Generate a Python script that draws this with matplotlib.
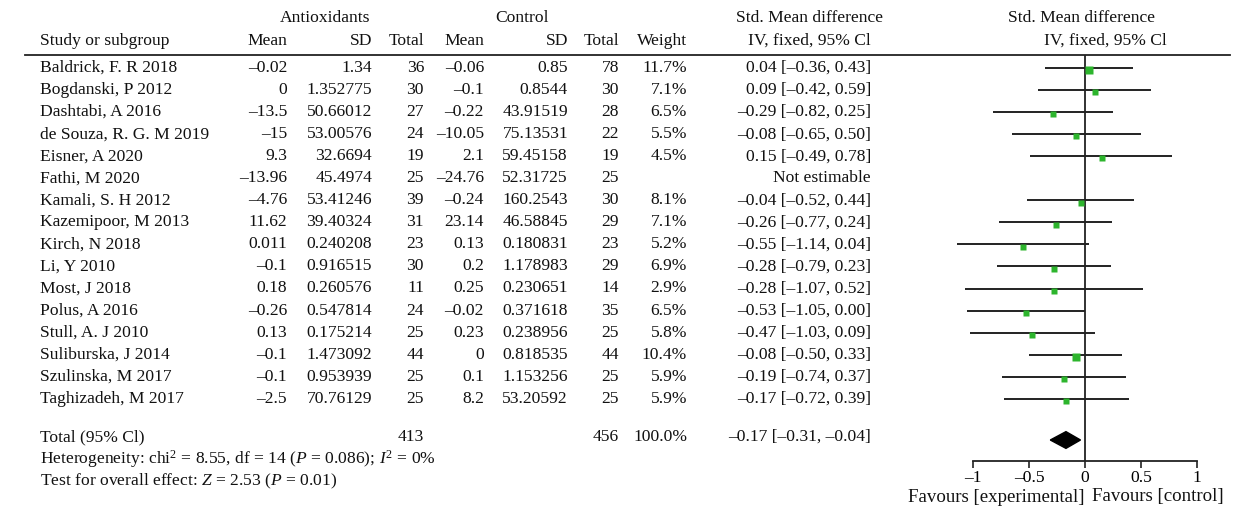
import matplotlib
matplotlib.use("Agg")
import matplotlib.pyplot as plt
from matplotlib.patches import Polygon

plt.rcParams["font.family"] = ["Liberation Serif", "DejaVu Serif"]
plt.rcParams["mathtext.fontset"] = "custom"
plt.rcParams["mathtext.rm"] = "Liberation Serif"
plt.rcParams["mathtext.it"] = "Liberation Serif:italic"

# ---- study data -------------------------------------------------------
studies = ["Baldrick, F. R 2018", "Bogdanski, P 2012", "Dashtabi, A 2016",
           "de Souza, R. G. M 2019", "Eisner, A 2020", "Fathi, M 2020",
           "Kamali, S. H 2012", "Kazemipoor, M 2013", "Kirch, N 2018",
           "Li, Y 2010", "Most, J 2018", "Polus, A 2016", "Stull, A. J 2010",
           "Suliburska, J 2014", "Szulinska, M 2017", "Taghizadeh, M 2017"]
ant_mean = ["–0.02", "0", "–13.5", "–15", "9.3", "–13.96", "–4.76", "11.62",
            "0.011", "–0.1", "0.18", "–0.26", "0.13", "–0.1", "–0.1", "–2.5"]
ant_sd = ["1.34", "1.352775", "50.66012", "53.00576", "32.6694", "45.4974",
          "53.41246", "39.40324", "0.240208", "0.916515", "0.260576",
          "0.547814", "0.175214", "1.473092", "0.953939", "70.76129"]
ant_n = [36, 30, 27, 24, 19, 25, 39, 31, 23, 30, 11, 24, 25, 44, 25, 25]
ctl_mean = ["–0.06", "–0.1", "–0.22", "–10.05", "2.1", "–24.76", "–0.24",
            "23.14", "0.13", "0.2", "0.25", "–0.02", "0.23", "0", "0.1", "8.2"]
ctl_sd = ["0.85", "0.8544", "43.91519", "75.13531", "59.45158", "52.31725",
          "160.2543", "46.58845", "0.180831", "1.178983", "0.230651",
          "0.371618", "0.238956", "0.818535", "1.153256", "53.20592"]
ctl_n = [78, 30, 28, 22, 19, 25, 30, 29, 23, 29, 14, 35, 25, 44, 25, 25]
weight = [11.7, 7.1, 6.5, 5.5, 4.5, None, 8.1, 7.1, 5.2, 6.9, 2.9, 6.5, 5.8,
          10.4, 5.9, 5.9]
smd = [0.04, 0.09, -0.29, -0.08, 0.15, None, -0.04, -0.26, -0.55, -0.28,
       -0.28, -0.53, -0.47, -0.08, -0.19, -0.17]
ci_low = [-0.36, -0.42, -0.82, -0.65, -0.49, None, -0.52, -0.77, -1.14,
          -0.79, -1.07, -1.05, -1.03, -0.50, -0.74, -0.72]
ci_high = [0.43, 0.59, 0.25, 0.50, 0.78, None, 0.44, 0.24, 0.04, 0.23, 0.52,
           0.00, 0.09, 0.33, 0.37, 0.39]

total_ant, total_ctl = 413, 456
pooled, pooled_low, pooled_high = -0.17, -0.31, -0.04
axis_ticks = [-1, -0.5, 0, 0.5, 1]
tick_labels = ["–1", "–0.5", "0", "0.5", "1"]


def fmt(v):
    return f"{v:.2f}".replace("-", "–")


W, H = 1235, 509
fig = plt.figure(figsize=(W / 100, H / 100), dpi=100)

# full-figure axes in pixel units for the table text
tab = fig.add_axes([0, 0, 1, 1])
tab.set_xlim(0, W)
tab.set_ylim(H, 0)
tab.axis("off")

fs = 12.6
row0, dy = 68, 22.05
kw = dict(fontsize=fs, va="center", color="#111111")

# column right edges
c_am, c_asd, c_an = 287, 372, 424
c_cm, c_csd, c_cn, c_w, c_ci = 484, 568, 619, 687, 871

tab.text(325, 18, "Antioxidants", ha="center", **kw)
tab.text(522, 18, "Control", ha="center", **kw)
tab.text(810, 18, "Std. Mean difference", ha="center", **kw)
tab.text(1081, 18, "Std. Mean difference", ha="center", **kw)
tab.text(40, 41, "Study or subgroup", ha="left", **kw)
for x, s in [(c_am, "Mean"), (c_asd, "SD"), (c_an, "Total"), (c_cm, "Mean"),
             (c_csd, "SD"), (c_cn, "Total"), (c_w, "Weight"),
             (c_ci, "IV, fixed, 95% Cl"), (1167, "IV, fixed, 95% Cl")]:
    tab.text(x, 41, s, ha="right", **kw)
tab.plot([25, 1230], [55, 55], color="#222222", lw=1.3)

for i, name in enumerate(studies):
    y = row0 + dy * i
    tab.text(40, y, name, ha="left", **kw)
    tab.text(c_am, y, ant_mean[i], ha="right", **kw)
    tab.text(c_asd, y, ant_sd[i], ha="right", **kw)
    tab.text(c_an, y, str(ant_n[i]), ha="right", **kw)
    tab.text(c_cm, y, ctl_mean[i], ha="right", **kw)
    tab.text(c_csd, y, ctl_sd[i], ha="right", **kw)
    tab.text(c_cn, y, str(ctl_n[i]), ha="right", **kw)
    if weight[i] is None:
        tab.text(c_ci, y, "Not estimable", ha="right", **kw)
    else:
        tab.text(c_w, y, f"{weight[i]:.1f}%", ha="right", **kw)
        tab.text(c_ci, y,
                 f"{fmt(smd[i])} [{fmt(ci_low[i])}, {fmt(ci_high[i])}]",
                 ha="right", **kw)

yt = 437
tab.text(40, yt, "Total (95% Cl)", ha="left", **kw)
tab.text(c_an, yt, str(total_ant), ha="right", **kw)
tab.text(c_cn, yt, str(total_ctl), ha="right", **kw)
tab.text(c_w, yt, f"{sum(w for w in weight if w):.1f}%", ha="right", **kw)
tab.text(c_ci, yt, f"{fmt(pooled)} [{fmt(pooled_low)}, {fmt(pooled_high)}]",
         ha="right", **kw)
tab.text(40, 459,
         r"Heterogeneity: chi$^2$ = 8.55, df = 14 ($P$ = 0.086); $I^2$ = 0%",
         ha="left", **kw)
tab.text(40, 481, r"Test for overall effect: $Z$ = 2.53 ($P$ = 0.01)",
         ha="left", **kw)

# ---- forest panel -------------------------------------------------------
x0px, x1px = 940, 1230
zero_px, unit_px = 1085, 112
top_px, bot_px = 55, 461
ax = fig.add_axes([x0px / W, 1 - bot_px / H, (x1px - x0px) / W,
                   (bot_px - top_px) / H])
ax.set_xlim((x0px - zero_px) / unit_px, (x1px - zero_px) / unit_px)
ax.set_ylim((bot_px - row0) / dy, (top_px - row0) / dy)
ax.patch.set_alpha(0)
for s in ["top", "left", "right"]:
    ax.spines[s].set_visible(False)
ax.spines["bottom"].set_bounds(-1, 1)
ax.spines["bottom"].set_linewidth(1.3)
ax.spines["bottom"].set_color("#222222")
ax.set_yticks([])
ax.set_xticks(axis_ticks)
ax.set_xticklabels(tick_labels, fontsize=fs)
ax.tick_params(axis="x", direction="out", length=5, width=1.2,
               color="#222222", pad=1.5)

ax.axvline(0, color="#222222", lw=1.3, zorder=1)
for i in range(len(studies)):
    if smd[i] is None:
        continue
    ax.plot([ci_low[i], ci_high[i]], [i, i], color="#222222", lw=1.4,
            solid_capstyle="butt", zorder=2)
    size_px = 5.0 + 0.2 * weight[i]
    ax.plot(smd[i], i + 0.1, marker="s", ms=size_px * 0.72, color="#2db52d",
            mec="none", zorder=3)

yd = (440 - row0) / dy
diamond = Polygon([[pooled_low, yd], [pooled, yd - 0.38],
                   [pooled_high, yd], [pooled, yd + 0.38]],
                  closed=True, color="black", zorder=3)
ax.add_patch(diamond)

fav_kw = dict(kw, fontsize=13.6)
tab.text(1084, 497, "Favours [experimental]", ha="right", **fav_kw)
tab.text(1092, 497, "Favours [control]", ha="left", **fav_kw)

fig.savefig("out.png", dpi=100)
